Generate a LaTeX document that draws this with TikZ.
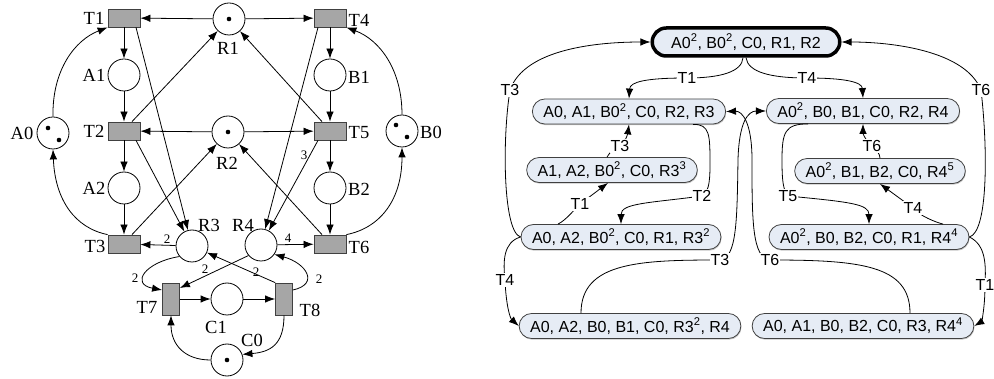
\documentclass[tikz,border=0pt]{standalone}
\usepackage{fontspec}
\setmainfont{Liberation Serif}
\newfontfamily\sansf{Liberation Sans}
\usetikzlibrary{arrows.meta,shadows}
\definecolor{stfill}{HTML}{E6ECF5}
\newcommand\serlab{\fontsize{18.5}{20}\selectfont}
\newcommand\wtfont{\fontsize{13}{14}\selectfont}
\newcommand\stfont{\sansf\fontsize{16}{18}\selectfont}
\tikzset{
 pl/.style={circle,draw,line width=0.8pt,minimum size=32pt,inner sep=0pt},
 tr/.style={rectangle,draw=black!75,fill=black!35,line width=0.8pt,minimum width=32pt,minimum height=18pt,inner sep=0pt},
 vtr/.style={tr,minimum width=17pt,minimum height=32pt},
 lab/.style={inner sep=0pt,font=\serlab},
 wt/.style={inner sep=0pt,font=\wtfont},
 arr/.style={-{Latex[length=10pt,width=7.5pt]},line width=0.8pt},
 st/.style={rectangle,rounded corners=12.5pt,draw=black!75,fill=stfill,line width=0.8pt,minimum height=25pt,inner xsep=11pt,inner ysep=0pt,font=\stfont,
   drop shadow={shadow xshift=0.6pt,shadow yshift=-1.2pt,fill=black!45}},
 elab/.style={fill=white,inner sep=1pt,font=\stfont},
}
\begin{document}
\begin{tikzpicture}[x=1pt,y=-1pt]
\useasboundingbox (0,0) rectangle (994,379);
% ---------- Petri net ----------
\node[tr] (T1) at (124,18) {};
\node[tr] (T2) at (124,131) {};
\node[tr] (T3) at (124,244) {};
\node[tr] (T4) at (330,18) {};
\node[tr] (T5) at (330,131) {};
\node[tr] (T6) at (330,244) {};
\node[vtr] (T7) at (171,299) {};
\node[vtr] (T8) at (284,299) {};
\node[pl] (R1) at (229,19) {};
\node[pl] (R2) at (228,132) {};
\node[pl] (R3) at (192,246) {};
\node[pl] (R4) at (261,245) {};
\node[pl] (A0) at (53,133) {};
\node[pl] (A1) at (124,75) {};
\node[pl] (A2) at (124,188) {};
\node[pl] (B0) at (402,131) {};
\node[pl] (B1) at (330,75) {};
\node[pl] (B2) at (330,188) {};
\node[pl] (C1) at (227,299) {};
\node[pl] (C0) at (227,360) {};
% tokens
\fill (R1.center) circle (2.3);
\fill (R2.center) circle (2.3);
\fill (C0.center) circle (2.3);
\fill ([shift={(-5,-5)}]A0.center) circle (2.3);
\fill ([shift={(6,7)}]A0.center) circle (2.3);
\fill ([shift={(-6,-6)}]B0.center) circle (2.3);
\fill ([shift={(5,6)}]B0.center) circle (2.3);
% labels
\node[lab] (lT1) at (94,18) {T1};
\node[lab] (lA1) at (94,75) {A1};
\node[lab] (lT2) at (94,131) {T2};
\node[lab] (lA0) at (22,133) {A0};
\node[lab] (lA2) at (94,188) {A2};
\node[lab] (lT3) at (95,246) {T3};
\node[lab] (lR1) at (228,48) {R1};
\node[lab] (lR2) at (227,163) {R2};
\node[lab] (lT4) at (359,20) {T4};
\node[lab] (lB1) at (359,77) {B1};
\node[lab] (lT5) at (359,133) {T5};
\node[lab] (lB0) at (431,132) {B0};
\node[lab] (lB2) at (359,189) {B2};
\node[lab] (lT6) at (359,247) {T6};
\node[lab] (lR3) at (209,225) {R3};
\node[lab] (lR4) at (243,225) {R4};
\node[lab] (lT7) at (147,307) {T7};
\node[lab] (lC1) at (216,327) {C1};
\node[lab] (lT8) at (310,310) {T8};
\node[lab] (lC0) at (252,340) {C0};
% arcs
\draw[arr] (R1) -- (T1);
\draw[arr] (R1) -- (T4);
\draw[arr] (T1) -- (A1);
\draw[arr] (A1) -- (T2);
\draw[arr] (T2) -- (A2);
\draw[arr] (A2) -- (T3);
\draw[arr] (T4) -- (B1);
\draw[arr] (B1) -- (T5);
\draw[arr] (T5) -- (B2);
\draw[arr] (B2) -- (T6);
\draw[arr] (R2) -- (T2);
\draw[arr] (R2) -- (T5);
\draw[arr] ([xshift=8pt]T2.north) -- (R1);
\draw[arr] ([xshift=8pt]T3.north) -- (R2);
\draw[arr] ([xshift=-8pt]T5.north) -- (R1);
\draw[arr] ([xshift=-8pt]T6.north) -- (R2);
\draw[arr] ([xshift=12pt]T1.south) -- (R3);
\draw[arr] ([xshift=12pt]T2.south) -- (R3);
\draw[arr] ([xshift=-12pt]T4.south) -- (R4);
\draw[arr] ([xshift=-12pt]T5.south) -- (R4);
\draw[arr] (R3) -- (T3);
\draw[arr] (R4) -- (T6);
\draw[arr] (R3.220) .. controls (145,262) and (130,284) .. ([yshift=9pt]T7.west);
\draw[arr] (R4.220) -- ([yshift=11pt]T7.east);
\draw[arr] (T8.north west) -- (R3);
\draw[arr] ([yshift=9pt]T8.east) .. controls (320,284) and (306,263) .. (R4.-35);
\draw[arr] (T7) -- (C1);
\draw[arr] (C1) -- (T8);
\draw[arr] (C0.west) .. controls (185,360) and (171,345) .. (T7.south);
\draw[arr] (T8.south) .. controls (284,345) and (270,352) .. (C0.20);
\draw[arr] (A0.north) .. controls (52,70) and (75,40) .. (T1.south west);
\draw[arr] (T3.north west) .. controls (75,228) and (55,200) .. (A0.south);
\draw[arr] (B0.north) .. controls (402,70) and (380,40) .. (T4.south east);
\draw[arr] (T6.north east) .. controls (380,228) and (402,200) .. (B0.south);
% weights
\node[wt] (w1) at (167,239) {2};
\node[wt] (w2) at (288,238) {4};
\node[wt] (w3) at (304,155) {3};
\node[wt] (w4) at (135,278) {2};
\node[wt] (w5) at (205,269) {2};
\node[wt] (w6) at (256,272) {2};
\node[wt] (w7) at (319,279) {2};
% ---------- reachability graph ----------
\node[st,line width=3.5pt,draw=black,rounded corners=14pt,minimum height=28pt,inner xsep=19pt] (S0) at (746,42) {A0\textsuperscript{2}, B0\textsuperscript{2}, C0, R1, R2};
\node[st] (S1) at (629,111.5) {A0, A1, B0\textsuperscript{2}, C0, R2, R3};
\node[st] (S2) at (863,111) {A0\textsuperscript{2}, B0, B1, C0, R2, R4};
\node[st] (S3) at (612,170) {A1, A2, B0\textsuperscript{2}, C0, R3\textsuperscript{3}};
\node[st] (S4) at (880,171) {A0\textsuperscript{2}, B1, B2, C0, R4\textsuperscript{5}};
\node[st] (S5) at (621,237) {A0, A2, B0\textsuperscript{2}, C0, R1, R3\textsuperscript{2}};
\node[st] (S6) at (869,237) {A0\textsuperscript{2}, B0, B2, C0, R1, R4\textsuperscript{4}};
\node[st] (S7) at (630,326) {A0, A2, B0, B1, C0, R3\textsuperscript{2}, R4};
\node[st] (S8) at (863,326) {A0, A1, B0, B2, C0, R3, R4\textsuperscript{4}};
\draw[arr] ([xshift=-3pt]S0.south) .. controls (742,72) and (720,78) .. (687,78) node[elab]{T1} .. controls (645,78) and (630,82) .. (S1.north);
\draw[arr] (S0.south) .. controls (748,72) and (770,78) .. (807,78) node[elab]{T4} .. controls (845,78) and (862,82) .. (S2.north);
\draw[arr] (S5.west) .. controls (503,232) and (502,140) .. (510,90) node[elab]{T3} .. controls (525,48) and (600,42) .. (S0.west);
\draw[arr] (S5.west) .. controls (503,242) and (503,262) .. (505,280) node[elab]{T4} .. controls (506,305) and (510,318) .. (S7.west);
\draw[arr] (S6.east) .. controls (988,232) and (988,150) .. (981,90) node[elab]{T6} .. controls (965,50) and (890,42) .. (S0.east);
\draw[arr] (S6.east) .. controls (986,245) and (986,265) .. (985,285) node[elab]{T1} .. controls (985,310) and (981,322) .. (S8.east);
\draw[arr] ([xshift=64pt]S1.south) .. controls (710,124) and (710,135) .. (710,165) .. controls (710,185) and (708,192) .. (702,196) node[elab]{T2} .. controls (650,203) and (621,203) .. (S5.north);
\draw[arr] ([xshift=-5pt]S3.north) .. controls (610,152) and (614,148) .. (620,146) node[elab]{T3} .. controls (626,142) and (628,132) .. (S1.south);
\draw[arr] ([xshift=-63pt]S5.north) .. controls (566,220) and (573,211) .. (580,204) node[elab]{T1} -- ([xshift=-4pt]S3.south);
\draw[arr] ([xshift=-49pt]S7.north) .. controls (581,262) and (640,260) .. (720,260) node[elab]{T3} .. controls (737,258) and (737,220) .. (738,160) .. controls (739,122) and (748,111) .. (S2.west);
\draw[arr] ([xshift=47pt]S8.north) .. controls (910,265) and (860,260) .. (770,260) node[elab]{T6} .. controls (752,258) and (752,220) .. (752,160) .. controls (752,122) and (742,111) .. (S1.east);
\draw[arr] ([xshift=-55pt]S2.south) .. controls (785,124) and (782,132) .. (782,160) .. controls (782,180) and (783,190) .. (788,196) node[elab]{T5} .. controls (850,202) and (869,204) .. (S6.north);
\draw[arr] (S4.north) .. controls (880,154) and (876,149) .. (872,146) node[elab]{T6} .. controls (866,141) and (863,134) .. (S2.south);
\draw[arr] ([xshift=74pt]S6.north) .. controls (935,222) and (920,216) .. (913,208) node[elab]{T4} -- (S4.south);
\end{tikzpicture}
\end{document}
